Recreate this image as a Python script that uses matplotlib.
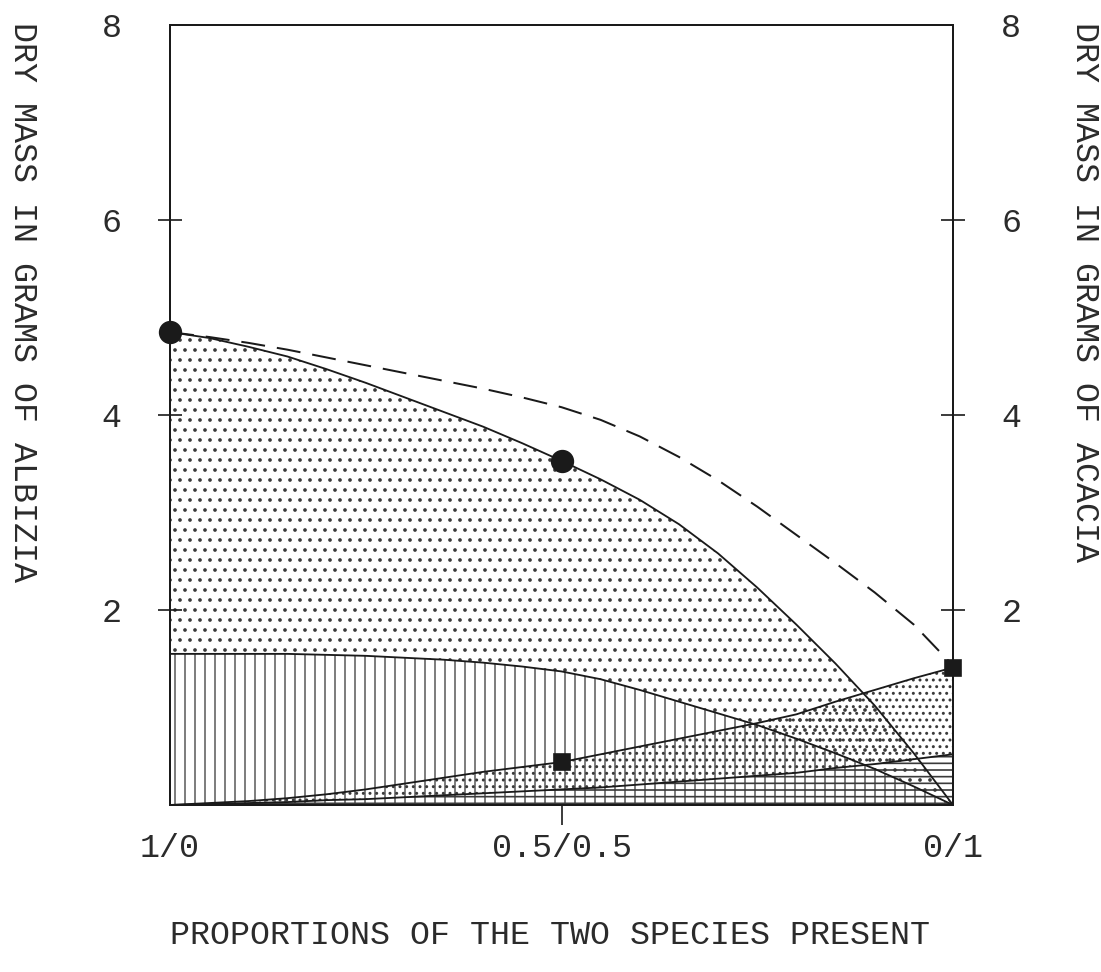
import numpy as np
import matplotlib.pyplot as plt

plt.rcParams['font.family'] = ['Liberation Mono', 'DejaVu Sans Mono']
plt.rcParams['hatch.linewidth'] = 1.0

# proportions (1/0 -> 0/1) and dry masses
prop = [0.0, 0.05, 0.1, 0.15, 0.2, 0.25, 0.3, 0.35, 0.4, 0.45, 0.5,
        0.55, 0.6, 0.65, 0.7, 0.75, 0.8, 0.85, 0.9, 0.95, 1.0]
albizia = [4.85, 4.79, 4.70, 4.60, 4.47, 4.33, 4.18, 4.03, 3.88, 3.71, 3.53,
           3.34, 3.13, 2.88, 2.58, 2.23, 1.85, 1.45, 1.02, 0.53, 0.0]
total = [4.85, 4.80, 4.74, 4.67, 4.59, 4.51, 4.43, 4.35, 4.27, 4.18, 4.08,
         3.95, 3.78, 3.57, 3.33, 3.06, 2.77, 2.48, 2.18, 1.85, 1.43]
albizia_low = [1.55, 1.55, 1.55, 1.55, 1.54, 1.53, 1.51, 1.49, 1.46, 1.42, 1.37,
               1.29, 1.18, 1.06, 0.94, 0.82, 0.68, 0.53, 0.37, 0.19, 0.0]
acacia = [0.0, 0.02, 0.04, 0.07, 0.11, 0.16, 0.22, 0.28, 0.34, 0.39, 0.44,
          0.52, 0.60, 0.68, 0.76, 0.84, 0.93, 1.06, 1.18, 1.30, 1.41]
acacia_low = [0.0, 0.01, 0.02, 0.03, 0.05, 0.06, 0.08, 0.10, 0.12, 0.14, 0.16,
              0.18, 0.21, 0.24, 0.27, 0.30, 0.33, 0.38, 0.42, 0.47, 0.52]

circ_x = [0.0, 0.5]
circ_y = [4.85, 3.53]
sq_x = [0.5, 1.0]
sq_y = [0.44, 1.41]

x_ticks = [0.0, 0.5, 1.0]
x_labels = ['1/0', '0.5/0.5', '0/1']
y_ticks = [2, 4, 6, 8]

W, H, DPI = 1101, 972, 120
fig = plt.figure(figsize=(W / DPI, H / DPI), dpi=DPI)
ax = fig.add_axes([170 / W, 1 - 805 / H, 783 / W, 780 / H])

ink = '#1a1a1a'
txt = '#2b2b2b'
hatch_c = '#3a3a3a'

x = np.array(prop)
# hatched areas
ax.fill_between(x, albizia_low, albizia, facecolor='none', edgecolor=hatch_c,
                hatch='..', linewidth=0)
ax.fill_between(x, 0, albizia_low, facecolor='none', edgecolor='#666666',
                hatch='||', linewidth=0)
ax.fill_between(x, acacia_low, acacia, facecolor='none', edgecolor=hatch_c,
                hatch='...', linewidth=0)
ax.fill_between(x, 0, acacia_low, facecolor='none', edgecolor=hatch_c,
                hatch='---', linewidth=0)

# curves
ax.plot(x, albizia, color=ink, lw=1.1)
ax.plot(x, albizia_low, color=ink, lw=1.1)
ax.plot(x, acacia, color=ink, lw=1.1)
ax.plot(x, acacia_low, color=ink, lw=1.1)
ln, = ax.plot(x, total, color=ink, lw=1.2)
ln.set_dashes((12, 6))

ax.plot(circ_x, circ_y, 'o', color=ink, ms=13, clip_on=False, zorder=5)
ax.plot(sq_x, sq_y, 's', color=ink, ms=10, clip_on=False, zorder=5)

ax.set_xlim(0, 1)
ax.set_ylim(0, 8)
for s in ax.spines.values():
    s.set_linewidth(1.2)
    s.set_color(ink)

ax.set_xticks(x_ticks)
ax.set_xticklabels(x_labels, fontsize=20)
ax.tick_params(axis='x', direction='out', length=12, width=1, pad=5,
               color=ink, labelcolor=txt)
xt = ax.xaxis.get_major_ticks()
xt[0].tick1line.set_visible(False)
xt[2].tick1line.set_visible(False)

ax.set_yticks(y_ticks)
ax.set_yticklabels([str(v) for v in y_ticks], fontsize=20)
ax.tick_params(axis='y', direction='inout', length=14, width=1, pad=22,
               left=True, right=True, labelleft=True, labelright=True,
               color=ink, labelcolor=txt)
yt = ax.yaxis.get_major_ticks()
yt[-1].tick1line.set_visible(False)
yt[-1].tick2line.set_visible(False)

fig.text(22 / W, 1 - 22 / H, 'DRY MASS IN GRAMS OF ALBIZIA', rotation=270,
         ha='center', va='top', fontsize=20, color=txt)
fig.text(1085 / W, 1 - 22 / H, 'DRY MASS IN GRAMS OF ACACIA', rotation=270,
         ha='center', va='top', fontsize=20, color=txt)
fig.text(550 / W, 1 - 935 / H, 'PROPORTIONS OF THE TWO SPECIES PRESENT',
         ha='center', va='center', fontsize=20, color=txt)

fig.savefig('out.png', dpi=DPI, facecolor='white')
